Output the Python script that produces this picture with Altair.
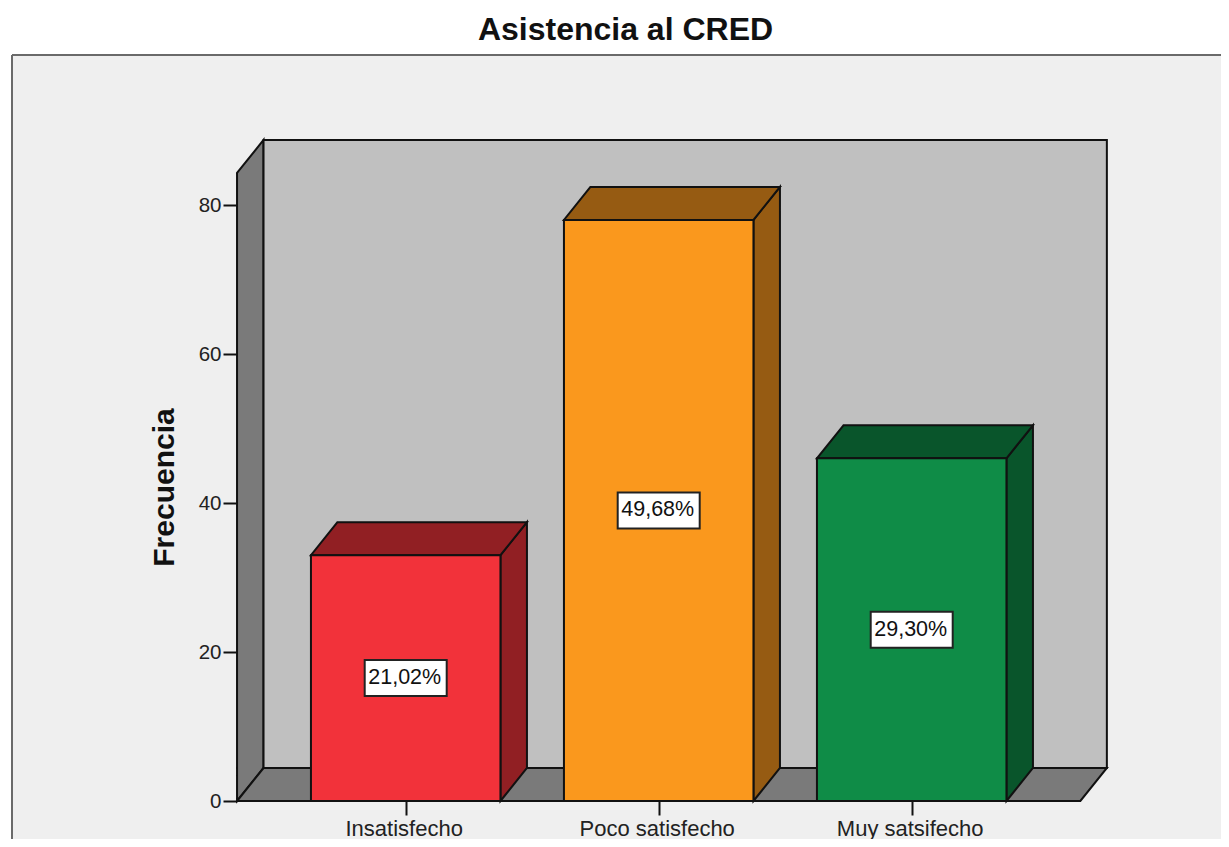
import json
import altair as alt
import pandas as pd

categories = ["Insatisfecho", "Poco satisfecho", "Muy satsifecho"]
frequencies = [33, 78, 46]
percent_labels = ["21,02%", "49,68%", "29,30%"]
front_colors = ["#f2323a", "#fa981d", "#0f8c47"]
shade_colors = ["#911f23", "#965b12", "#09552b"]

FONT = "Liberation Sans"
PX_X = 253.0
PX_Y = 7.45
CENTER0 = 405.7
W, H = 1209, 784
x_domain = [(12 - CENTER0) / PX_X, (12 + W - CENTER0) / PX_X]
y_domain = [-(H - 746) / PX_Y, 746 / PX_Y]
HALF = 94.75 / PX_X
DX = 26.5 / PX_X
DY = 33 / PX_Y
HALF_BOX_X = 41 / PX_X
HALF_BOX_Y = 18 / PX_Y
WALL_LEFT, WALL_RIGHT = -2 / 3, 2 + 2 / 3
WALL_TOP = 84.3
LINE = "#111111"

xs = alt.Scale(domain=x_domain, nice=False, zero=False)
ys = alt.Scale(domain=y_domain, nice=False, zero=False)
X = alt.X("x:Q", scale=xs, title=None, axis=alt.Axis(
    values=[0, 1, 2], grid=False, domain=False, offset=-38, tickSize=14, tickColor=LINE, tickWidth=2,
    labelExpr=json.dumps(categories) + "[datum.value]", labelFont=FONT, labelFontSize=22,
    labelColor="#222222", labelPadding=3, labelFlush=False, labelOverlap=False, labelOffset=-2))
Y = alt.Y("y:Q", scale=ys, title="Frecuencia", axis=alt.Axis(
    values=[0, 20, 40, 60, 80], grid=False, domain=False, offset=-225, tickSize=14, tickColor=LINE, tickWidth=2,
    labelFont=FONT, labelFontSize=20.5, labelColor="#222222", labelPadding=2,
    titleFont=FONT, titleFontSize=30, titleFontWeight="bold", titleColor="#111111", titleY=432, titleX=-58))
X2 = alt.X2("x2:Q")
Y2 = alt.Y2("y2:Q")

# faces of the walls
left_wall = pd.DataFrame({"x": [WALL_LEFT, WALL_LEFT + DX], "y": [0, DY], "y2": [WALL_TOP, WALL_TOP + DY]})
back_wall = pd.DataFrame({"x": [WALL_LEFT + DX], "x2": [WALL_RIGHT + DX], "y": [DY], "y2": [WALL_TOP + DY]})
floor = pd.DataFrame({"y": [0, DY], "x": [WALL_LEFT, WALL_LEFT + DX], "x2": [WALL_RIGHT, WALL_RIGHT + DX]})

# faces of the bars
sides, tops, fronts, boxes, texts = [], [], [], [], []
for i, v in enumerate(frequencies):
    left, right = i - HALF, i + HALF
    sides += [{"x": right, "y": 0, "y2": v, "c": shade_colors[i]},
              {"x": right + DX, "y": DY, "y2": v + DY, "c": shade_colors[i]}]
    tops += [{"y": v, "x": left, "x2": right, "c": shade_colors[i]},
             {"y": v + DY, "x": left + DX, "x2": right + DX, "c": shade_colors[i]}]
    fronts.append({"x": left, "x2": right, "y": 0, "y2": v, "c": front_colors[i]})
    boxes.append({"x": i - HALF_BOX_X, "x2": i + HALF_BOX_X, "y": v / 2 - HALF_BOX_Y, "y2": v / 2 + HALF_BOX_Y})
    texts.append({"x": i, "y": v / 2, "t": percent_labels[i]})
sides, tops, fronts, boxes, texts = map(pd.DataFrame, (sides, tops, fronts, boxes, texts))
base_line = pd.DataFrame({"x": [WALL_LEFT], "x2": [WALL_RIGHT], "y": [0]})

stroke = dict(stroke=LINE, strokeWidth=2)
frame = dict(color="#6a6a6a", strokeWidth=2)
layers = [
    alt.Chart(left_wall).mark_area(color="#7a7a7a", **stroke).encode(x=X, y=Y, y2=Y2),
    alt.Chart(back_wall).mark_rect(color="#c0c0c0", **stroke).encode(x=X, x2=X2, y=Y, y2=Y2),
    alt.Chart(floor).mark_area(color="#7a7a7a", orient="horizontal", **stroke).encode(y=Y, x=X, x2=X2),
    alt.Chart(sides).mark_area(**stroke).encode(x=X, y=Y, y2=Y2, fill=alt.Fill("c:N", scale=None)),
    alt.Chart(tops).mark_area(orient="horizontal", **stroke).encode(y=Y, x=X, x2=X2, fill=alt.Fill("c:N", scale=None)),
    alt.Chart(fronts).mark_rect(**stroke).encode(x=X, x2=X2, y=Y, y2=Y2, fill=alt.Fill("c:N", scale=None)),
    alt.Chart(base_line).mark_rule(**stroke).encode(x=X, x2=X2, y=Y),
    alt.Chart(boxes).mark_rect(fill="white", stroke="#222222", strokeWidth=2).encode(x=X, x2=X2, y=Y, y2=Y2),
    alt.Chart(texts).mark_text(font=FONT, fontSize=21.5, color="#111111", dx=-1).encode(x=X, y=Y, text="t:N"),
    alt.Chart(pd.DataFrame({"k": [0]})).mark_rule(**frame).encode(x=alt.value(0), y=alt.value(0), y2=alt.value(H)),
    alt.Chart(pd.DataFrame({"k": [0]})).mark_rule(**frame).encode(x=alt.value(0), x2=alt.value(W), y=alt.value(0)),
]

chart = alt.layer(*layers).properties(
    width=W, height=H,
    title=alt.TitleParams("Asistencia al CRED", font=FONT, fontSize=32, fontWeight="bold", color="#111111",
                          dx=9, offset=7),
    autosize=alt.AutoSizeParams(type="none"),
    padding={"left": 4, "top": 47, "right": 0, "bottom": 0},
).configure_view(fill="#efefef", stroke=None)

chart.save("out.html", embed_options={"renderer": "svg", "actions": False})
